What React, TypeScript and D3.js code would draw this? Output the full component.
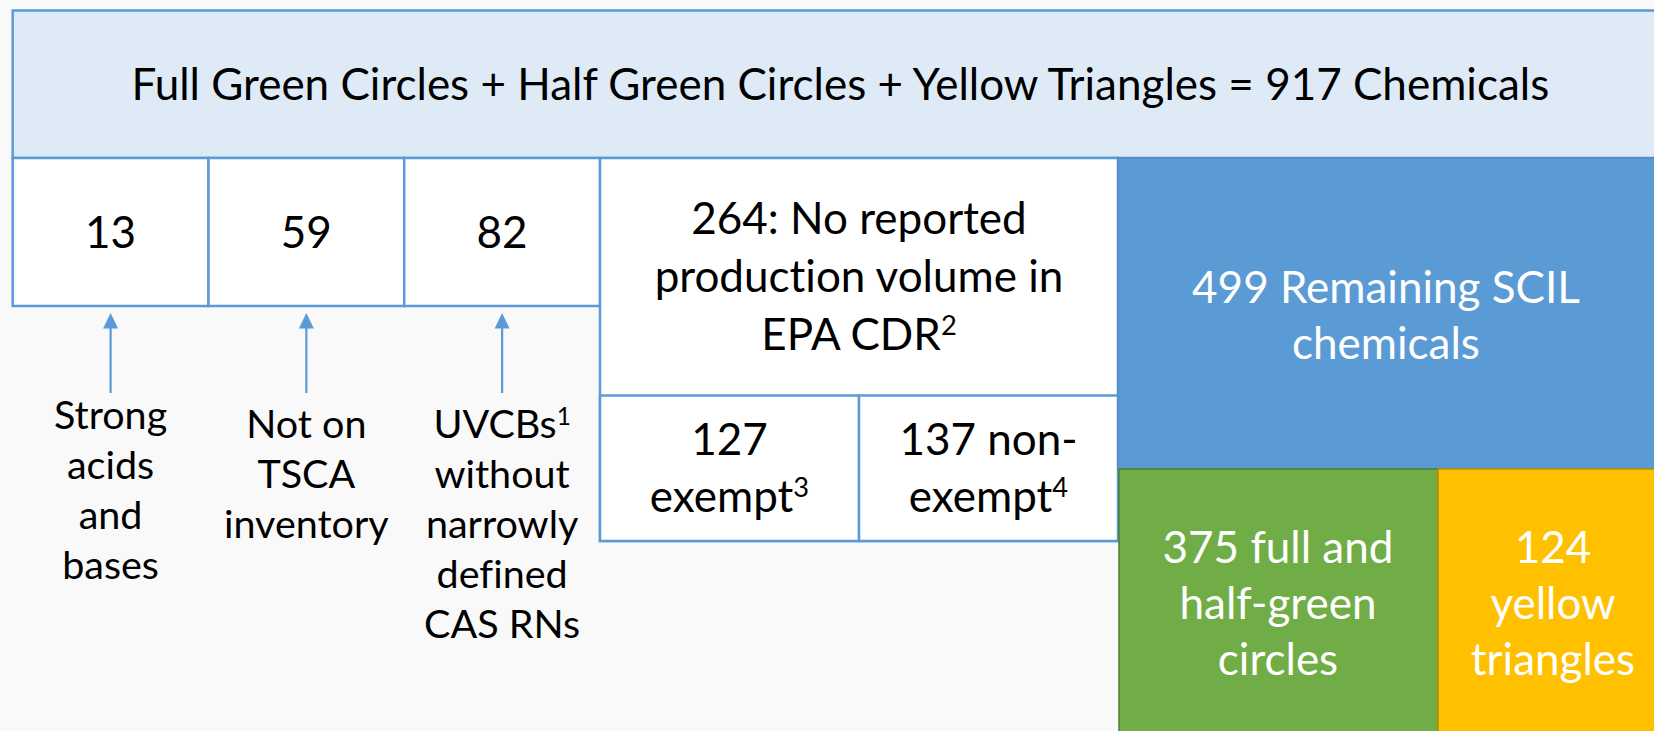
import * as d3 from "d3";

const WIDTH = 1654;
const HEIGHT = 731;

// counts shown in the figure
const totalChemicals = 917;
const excludedCounts = [13, 59, 82];
const excludedLabels = [
  ["Strong", "acids", "and", "bases"],
  ["Not on", "TSCA", "inventory"],
  ["UVCBs^1", "without", "narrowly", "defined", "CAS RNs"],
];
const noVolumeCount = 264;
const noVolumeSplit = [127, 137];
const remainingCount = 499;
const remainingSplit = [375, 124];

const COLORS = {
  page: "#f9f9f9",
  header: "#deebf7",
  line: "#5b9bd5",
  blue: "#5b9bd5",
  blueEdge: "#4f8cc4",
  green: "#70ad47",
  greenEdge: "#507e32",
  yellow: "#ffc000",
  yellowEdge: "#bc8c00",
};

const FONT = "Lato, 'Open Sans', sans-serif";
const TEXT_STYLE = { fontVariantLigatures: "none" } as const;

// "text^sup" -> text with a superscript note
function Line({ s }: { s: string }) {
  const [main, sup] = s.split("^");
  return (
    <>
      <tspan>{main}</tspan>
      {sup && (
        <tspan dy="-0.55em" fontSize="0.62em">
          {sup}
        </tspan>
      )}
    </>
  );
}

function Block({
  x,
  y,
  lines,
  step,
  size,
  fill,
}: {
  x: number;
  y: number;
  lines: string[];
  step: number;
  size: number;
  fill: string;
}) {
  return (
    <g>
      {lines.map((l, i) => (
        <text
          key={i}
          x={x}
          y={y + i * step}
          textAnchor="middle"
          fontSize={size}
          fill={fill}
          fontFamily={FONT}
          style={TEXT_STYLE}
        >
          <Line s={l} />
        </text>
      ))}
    </g>
  );
}

export default function App() {
  const left = 12.7;
  const top = 10.5;
  const headerBottom = 158;
  const cellBottom = 306;
  const boxLeft = 600;
  const boxRight = 1118;
  const boxMid = 395.5;
  const boxBottom = 541;
  const blueBottom = 469;
  const splitX = 1438;
  const big = 44;

  const xCell = d3
    .scaleBand<number>()
    .domain(d3.range(excludedCounts.length))
    .range([left, boxLeft]);
  const xSplit = d3
    .scaleBand<number>()
    .domain(d3.range(noVolumeSplit.length))
    .range([boxLeft, boxRight]);

  const labelBase = [429, 438, 438];
  const splitLines = [
    [`${noVolumeSplit[0]}`, "exempt^3"],
    [`${noVolumeSplit[1]} non-`, "exempt^4"],
  ];
  const colourLines = [
    [`${remainingSplit[0]} full and`, "half-green", "circles"],
    [`${remainingSplit[1]}`, "yellow", "triangles"],
  ];

  return (
    <div style={{ position: "absolute", left: 0, top: 0 }}>
      <svg width={WIDTH} height={HEIGHT} style={{ display: "block" }}>
        <rect width={WIDTH} height={HEIGHT} fill={COLORS.page} />

        {/* header */}
        <rect
          x={left}
          y={top}
          width={WIDTH + 20}
          height={headerBottom - top}
          fill={COLORS.header}
          stroke={COLORS.line}
          strokeWidth={2.5}
        />
        <text
          x={(left + 1668) / 2}
          y={100}
          textAnchor="middle"
          fontSize={big}
          fontFamily={FONT}
          style={TEXT_STYLE}
          fill="#000"
        >
          {`Full Green Circles + Half Green Circles + Yellow Triangles = ${totalChemicals} Chemicals`}
        </text>

        {/* excluded cells */}
        {excludedCounts.map((v, i) => {
          const cx = xCell(i)! + xCell.bandwidth() / 2;
          return (
            <g key={i}>
              <rect
                x={xCell(i)}
                y={headerBottom}
                width={xCell.bandwidth()}
                height={cellBottom - headerBottom}
                fill="#fff"
                stroke={COLORS.line}
                strokeWidth={2.5}
              />
              <text
                x={cx}
                y={248}
                textAnchor="middle"
                fontSize={big}
                fontFamily={FONT}
              >
                {v}
              </text>
              <line
                x1={cx}
                x2={cx}
                y1={393}
                y2={327}
                stroke={COLORS.line}
                strokeWidth={2.2}
              />
              <path
                d={`M${cx},313L${cx + 7.5},328.5L${cx - 7.5},328.5Z`}
                fill={COLORS.line}
              />
              <Block
                x={cx}
                y={labelBase[i]}
                lines={excludedLabels[i]}
                step={50}
                size={39.5}
                fill="#000"
              />
            </g>
          );
        })}

        {/* no reported production volume */}
        <rect
          x={boxLeft}
          y={headerBottom}
          width={boxRight - boxLeft}
          height={boxBottom - headerBottom}
          fill="#fff"
          stroke={COLORS.line}
          strokeWidth={2.5}
        />
        <Block
          x={(boxLeft + boxRight) / 2}
          y={234}
          lines={[`${noVolumeCount}: No reported`, "production volume in", "EPA CDR^2"]}
          step={58}
          size={big}
          fill="#000"
        />
        {noVolumeSplit.map((_, i) => (
          <g key={i}>
            <rect
              x={xSplit(i)}
              y={boxMid}
              width={xSplit.bandwidth()}
              height={boxBottom - boxMid}
              fill="#fff"
              stroke={COLORS.line}
              strokeWidth={2.5}
            />
            <Block
              x={xSplit(i)! + xSplit.bandwidth() / 2}
              y={455}
              lines={splitLines[i]}
              step={57}
              size={big}
              fill="#000"
            />
          </g>
        ))}

        {/* remaining */}
        <rect
          x={boxRight}
          y={headerBottom}
          width={WIDTH + 20 - boxRight}
          height={blueBottom - headerBottom}
          fill={COLORS.blue}
          stroke={COLORS.blueEdge}
          strokeWidth={1.5}
        />
        <Block
          x={(boxRight + WIDTH) / 2}
          y={303}
          lines={[`${remainingCount} Remaining SCIL`, "chemicals"]}
          step={56}
          size={big}
          fill="#fff"
        />
        <rect
          x={boxRight + 1}
          y={blueBottom}
          width={splitX - boxRight - 1}
          height={HEIGHT}
          fill={COLORS.green}
          stroke={COLORS.greenEdge}
          strokeWidth={1.5}
        />
        <rect
          x={splitX}
          y={blueBottom}
          width={WIDTH + 20 - splitX}
          height={HEIGHT}
          fill={COLORS.yellow}
          stroke={COLORS.yellowEdge}
          strokeWidth={1.5}
        />
        <Block
          x={(boxRight + splitX) / 2}
          y={563}
          lines={colourLines[0]}
          step={56}
          size={big}
          fill="#fff"
        />
        <Block
          x={1553}
          y={563}
          lines={colourLines[1]}
          step={56}
          size={big}
          fill="#fff"
        />
      </svg>
    </div>
  );
}
